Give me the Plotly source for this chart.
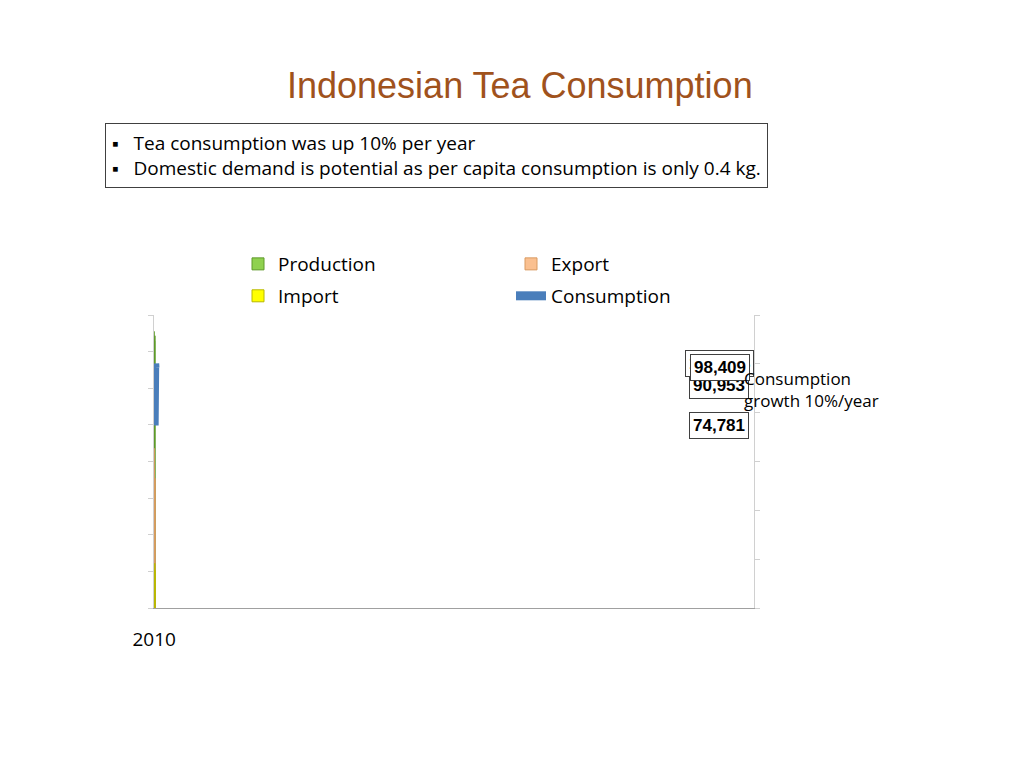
import plotly.graph_objects as go

years = ["2010", "2011", "2012", "2013"]
production = [151012, 146591, 145748, 148671]
export = [87191, 75450, 70071, 70842]
imports = [10870, 19812, 24397, 20580]
consumption = [74781, 90953, 100073, 98409]

fmt = lambda v: f"{v:,}"

fig = go.Figure()
bar_text = dict(textposition="inside", insidetextanchor="start", textangle=-90,
                textfont=dict(family="Liberation Sans, Arial", size=19, color="black"))
fig.add_trace(go.Bar(x=years, y=production, name="Production",
                     marker=dict(color="#8FD14F", line=dict(color="#5E9A2A", width=1)),
                     text=[f"<b>{fmt(v)}</b>" for v in production], legend="legend", **bar_text))
fig.add_trace(go.Bar(x=years, y=export, name="Export",
                     marker=dict(color="#FAC090", line=dict(color="#D99A60", width=1)),
                     text=[f"<b>{fmt(v)}</b>" for v in export], legend="legend", **bar_text))
fig.add_trace(go.Bar(x=years, y=imports, name="Import",
                     marker=dict(color="#FFFF00", line=dict(color="#B8B800", width=1)),
                     text=[f"<b>{fmt(v)}</b>" for v in imports], legend="legend2",
                     cliponaxis=False, **bar_text))
fig.add_trace(go.Scatter(x=years, y=consumption, name="Consumption", mode="lines",
                         line=dict(color="#4A7EBB", width=9), yaxis="y2", legend="legend2"))

for x, v in zip(years, consumption):
    fig.add_annotation(x=x, y=v, yref="y2", text=f"<b>{fmt(v)}</b>", showarrow=False,
                       bgcolor="white", bordercolor="#404040", borderwidth=1, borderpad=3,
                       font=dict(family="Liberation Sans, Arial", size=17, color="black"))

fig.add_annotation(x=0.61, y=1.86, xref="paper", yref="paper", showarrow=False,
                   text="Indonesian Tea Consumption",
                   font=dict(family="Liberation Sans, Arial", size=36, color="#A0521C"))
fig.add_annotation(x=-0.082, y=1.655, xref="paper", yref="paper", xanchor="left", yanchor="top",
                   showarrow=False, align="left", bordercolor="#404040", borderwidth=1, borderpad=6,
                   text="▪   Tea consumption was up 10% per year<br>"
                        "▪   Domestic demand is potential as per capita consumption is only 0.4 kg.",
                   font=dict(family="Open Sans, Liberation Sans", size=19, color="black"))
fig.add_annotation(x=0.98, y=0.83, xref="paper", yref="paper", xanchor="left", showarrow=False,
                   align="left", text="Consumption<br>growth 10%/year",
                   font=dict(family="Open Sans, Liberation Sans", size=17, color="black"))

leg = dict(orientation="h", xanchor="left", yanchor="middle", entrywidth=228,
           bgcolor="rgba(0,0,0,0)",
           font=dict(family="Open Sans, Liberation Sans", size=19, color="black"))
fig.update_layout(
    width=1024, height=768, paper_bgcolor="white", plot_bgcolor="white",
    margin=dict(l=146, r=278, t=307, b=168),
    barmode="group", bargap=0.25, bargroupgap=0,
    showlegend=True,
    legend=dict(x=0.14, y=1.174, **leg),
    legend2=dict(x=0.14, y=1.065, **leg),
    xaxis=dict(type="category", showline=True, linecolor="#A0A0A0", ticks="",
               tickfont=dict(family="Open Sans, Liberation Sans", size=19, color="black"),
               ticklabelstandoff=14),
    yaxis=dict(range=[0, 160000], dtick=20000, showgrid=False, showticklabels=False,
               showline=True, linecolor="#D0D0D0", ticks="outside", tickcolor="#D0D0D0", ticklen=5),
    yaxis2=dict(range=[0, 120000], dtick=20000, overlaying="y", side="right", showgrid=False,
                showticklabels=False, showline=True, linecolor="#D0D0D0",
                ticks="outside", tickcolor="#D0D0D0", ticklen=5),
)
fig.write_html("out.html")
